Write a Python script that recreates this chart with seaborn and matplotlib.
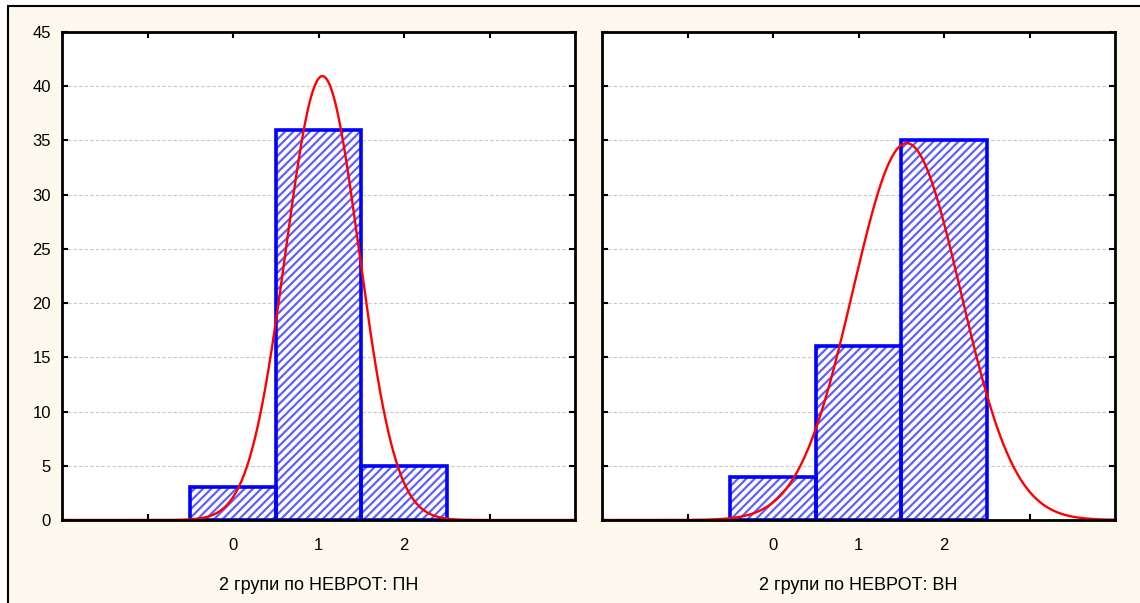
import numpy as np
import pandas as pd
import seaborn as sns
import matplotlib
matplotlib.use("Agg")
import matplotlib.pyplot as plt
from matplotlib.patches import Rectangle

# Category codes and frequencies for the two groups
categories = [0, 1, 2]
counts_pn = [3, 36, 5]
counts_vn = [4, 16, 35]
xlabel_pn = "2 групи по НЕВРОТ: ПН"
xlabel_vn = "2 групи по НЕВРОТ: ВН"
yticks = [0, 5, 10, 15, 20, 25, 30, 35, 40, 45]

sns.set_theme(style="white")
plt.rcParams["font.family"] = ["Liberation Sans", "DejaVu Sans"]
plt.rcParams["hatch.linewidth"] = 1.6

BLUE = "#0000ff"
HATCH_BLUE = "#6060ff"
CREAM = "#fdf9ee"
TICK_FS = 12
LABEL_FS = 13

fig = plt.figure(figsize=(11.4, 6.03), dpi=100, facecolor="white")
# outer frame
fig.patches.append(Rectangle((8 / 1140, -0.1), 1.2, 1.1 - 6 / 603,
                             transform=fig.transFigure, facecolor=CREAM,
                             edgecolor="black", linewidth=1.5, zorder=-10))

ax1 = fig.add_axes([62 / 1140, 1 - 520 / 603, 513 / 1140, 488 / 603])
ax2 = fig.add_axes([602 / 1140, 1 - 520 / 603, 513 / 1140, 488 / 603])


def fitted_curve(cats, counts):
    cats = np.asarray(cats, float)
    counts = np.asarray(counts, float)
    n = counts.sum()
    mean = (cats * counts).sum() / n
    sd = np.sqrt((counts * (cats - mean) ** 2).sum() / (n - 1))
    xs = np.linspace(-2, 4, 600)
    ys = n / (sd * np.sqrt(2 * np.pi)) * np.exp(-0.5 * ((xs - mean) / sd) ** 2)
    return pd.DataFrame({"x": xs, "y": ys})


def draw(ax, counts, xlabel, show_ylabels):
    ax.set_facecolor("white")
    df = pd.DataFrame({"cat": categories, "n": counts})
    # hatched fill first, then the solid outline on top
    sns.barplot(data=df, x="cat", y="n", native_scale=True, width=1.0,
                color="white", saturation=1, edgecolor=HATCH_BLUE, linewidth=0,
                hatch="////", ax=ax, zorder=2)
    sns.barplot(data=df, x="cat", y="n", native_scale=True, width=1.0,
                fill=False, color=BLUE, saturation=1, linewidth=2.6,
                ax=ax, zorder=2.5)
    curve = fitted_curve(categories, counts)
    sns.lineplot(data=curve, x="x", y="y", color="#ff0000", linewidth=1.7,
                 ax=ax, zorder=3)
    ax.set_xlim(-2, 4)
    ax.set_ylim(0, 45)
    ax.set_xticks([-1, 0, 1, 2, 3])
    ax.set_xticklabels(["", "0", "1", "2", ""])
    ax.set_yticks(yticks)
    if show_ylabels:
        ax.set_yticklabels([str(v) for v in yticks])
    else:
        ax.set_yticklabels([])
    ax.tick_params(axis="both", direction="in", length=4, width=1.5,
                   colors="black", labelsize=TICK_FS, top=True, right=True,
                   bottom=True, left=True)
    ax.tick_params(axis="x", pad=13)
    ax.tick_params(axis="y", pad=8)
    ax.yaxis.grid(True, color="#c8c8c8", linestyle=(0, (3, 2)), linewidth=0.8)
    ax.xaxis.grid(False)
    ax.set_axisbelow(True)
    for s in ax.spines.values():
        s.set_visible(True)
        s.set_color("black")
        s.set_linewidth(2)
        s.set_zorder(4)
    ax.set_xlabel(xlabel, fontsize=LABEL_FS, labelpad=17, color="black")
    ax.set_ylabel("")


draw(ax1, counts_pn, xlabel_pn, True)
draw(ax2, counts_vn, xlabel_vn, False)

fig.savefig("out.png", dpi=100, facecolor=fig.get_facecolor())
